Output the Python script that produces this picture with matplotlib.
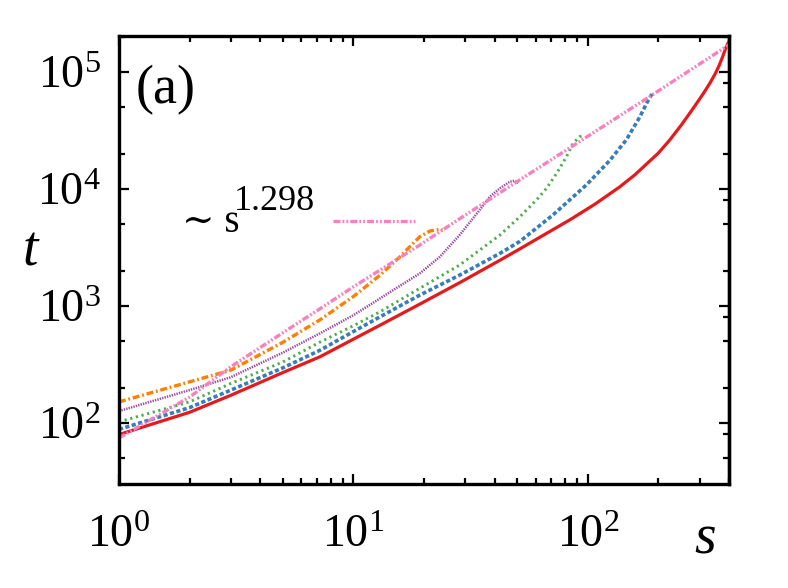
import matplotlib
matplotlib.use("Agg")
import matplotlib.pyplot as plt
from matplotlib.ticker import LogLocator, NullFormatter

plt.rcParams['font.family'] = ['Liberation Serif', 'DejaVu Serif']
plt.rcParams['mathtext.fontset'] = 'custom'
plt.rcParams['mathtext.rm'] = 'Liberation Serif'
plt.rcParams['mathtext.it'] = 'Liberation Serif:italic'
plt.rcParams['lines.scale_dashes'] = False

# ---- data ----
red_s = [1, 2, 3, 5, 7.2, 10, 13, 19.2, 28.4, 42.2, 51.3, 63.1, 83.8, 107.2, 136.8, 158.5,
         199.5, 223.9, 251.2, 276.7, 300.6, 316.2, 333.4, 350.8, 363.1, 375.8, 387.3,
         394.5, 399]
red_t = [79.4, 123, 172, 269, 367, 519, 684, 1035, 1578, 2455, 3069, 3908, 5433, 7400,
         10400, 13150, 20140, 26240, 35400, 46450, 59020, 68710, 81470, 97720, 113000,
         134300, 158500, 173000, 180000]

blue_s = [1, 2, 3, 5, 7.2, 10, 13, 19.2, 28.4, 42.2, 51.3, 71.1, 98.6, 124.2, 146.2,
          166.7, 180.7, 190.1]
blue_t = [87.9, 134.9, 190.5, 295, 417, 603, 807, 1236, 1832, 2812, 3556, 6000, 10810,
          17540, 26360, 41210, 56890, 67300]

green_s = [1, 2, 3, 5, 7.2, 10, 13, 19.2, 28.4, 42.2, 51.3, 60.4, 66.7, 73.6, 81.1,
           86.5, 92.5, 97.0]
green_t = [102, 151, 217, 331, 490, 676, 891, 1413, 2234, 4036, 5781, 8035, 10120,
           13580, 18840, 24550, 27990, 28910]

purple_s = [1, 2, 3, 5, 7.2, 10, 13, 19.2, 23.4, 28.4, 34.6, 38.2, 42.2, 46.5, 48.9, 50.5]
purple_t = [126, 190.5, 245.5, 398, 582, 832, 1159, 1897, 2630, 4036, 6607, 8570, 10120,
            11530, 11750, 11220]

orange_s = [1, 2, 3, 5, 7.2, 10, 13, 15.8, 17.4, 19.2, 21.2, 23.4, 24]
orange_t = [151, 224, 282, 488, 759, 1202, 1832, 2630, 3206, 3899, 4365, 4508, 4467]

pink_s = [1, 2, 3, 5, 7.2, 10, 19.2, 28.4, 51.3, 100, 187.1, 399]
pink_t = [74.1, 166, 302, 589, 944, 1455, 3311, 5559, 11940, 28180, 63100, 169800]

fit_label_base = "\u223c s"
fit_label_exp = "1.298"

# ---- figure ----
fig = plt.figure(figsize=(7.88, 5.88), dpi=100)
ax = fig.add_axes([0.151, 0.1769, 0.774, 0.7619])

ax.plot(red_s, red_t, color='#e41a1c', lw=2.3, solid_joinstyle='round')
ax.plot(blue_s, blue_t, color='#377eb8', lw=2.6, dashes=(3.0, 1.8))
ax.plot(green_s, green_t, color='#4daf4a', lw=2.1, dashes=(1.6, 2.6))
ax.plot(purple_s, purple_t, color='#984ea3', lw=1.8, dashes=(1.0, 0.8))
ax.plot(orange_s, orange_t, color='#ff7f00', lw=2.4, dashes=(5, 2, 1.3, 2))
ax.plot(pink_s, pink_t, color='#f781bf', lw=2.4, dashes=(5, 1.5, 1.3, 1.5, 1.3, 1.5))

ax.set_xscale('log')
ax.set_yscale('log')
ax.set_xlim(1, 400)
ax.set_ylim(30, 2.03e5)

ax.yaxis.set_minor_locator(LogLocator(base=10, subs=(2, 5)))
ax.yaxis.set_minor_formatter(NullFormatter())
ax.xaxis.set_minor_locator(LogLocator(base=10, subs=tuple(range(2, 10))))
ax.xaxis.set_minor_formatter(NullFormatter())

ax.tick_params(which='both', direction='in', top=True, right=False, width=1.6)
ax.tick_params(which='major', length=7, labelsize=33)
ax.tick_params(which='minor', length=4.5)
ax.tick_params(axis='x', which='major', pad=22)
ax.tick_params(axis='y', which='major', pad=13)

for sp in ax.spines.values():
    sp.set_linewidth(2.4)

sec = ax.secondary_yaxis('right', functions=(lambda y: y, lambda y: y))
sec.yaxis.set_major_locator(LogLocator(base=10))
sec.yaxis.set_minor_locator(LogLocator(base=10, subs=(2, 5, 8)))
sec.yaxis.set_major_formatter(NullFormatter())
sec.yaxis.set_minor_formatter(NullFormatter())
sec.tick_params(which='both', direction='in', width=1.6)
sec.tick_params(which='major', length=7)
sec.tick_params(which='minor', length=4.5)
sec.spines['right'].set_linewidth(2.4)

ax.set_xlabel('s', fontsize=40, style='italic')
ax.xaxis.set_label_coords(0.961, -0.125)
ax.xaxis.label.set_verticalalignment('center')
ax.set_ylabel('t', fontsize=40, style='italic', rotation=0)
ax.yaxis.set_label_coords(-0.146, 0.52)
ax.yaxis.label.set_verticalalignment('center')

ax.text(0.028, 0.85, '(a)', transform=ax.transAxes, fontsize=39, va='baseline', ha='left')
ax.text(0.103, 0.5625, fit_label_base, transform=ax.transAxes, fontsize=28,
        va='baseline', ha='left', family=['Liberation Serif', 'DejaVu Serif'])
ax.text(0.1885, 0.6116, fit_label_exp, transform=ax.transAxes, fontsize=26,
        va='baseline', ha='left')
ax.plot([0.351, 0.485], [0.587, 0.587], transform=ax.transAxes, color='#f781bf',
        lw=2.4, dashes=(5, 1.5, 1.3, 1.5, 1.3, 1.5))

fig.savefig('out.png', dpi=100)
